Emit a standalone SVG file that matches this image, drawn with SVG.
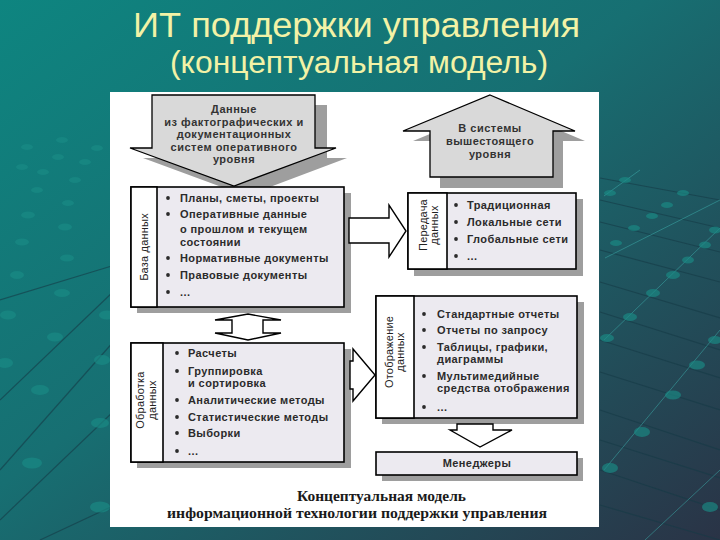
<svg xmlns="http://www.w3.org/2000/svg" width="720" height="540" viewBox="0 0 720 540">
<defs>
<linearGradient id="bg" x1="0" y1="0" x2="1" y2="1">
<stop offset="0" stop-color="#0e8580"/>
<stop offset="0.45" stop-color="#176f72"/>
<stop offset="1" stop-color="#2a3346"/>
</linearGradient>
<style>
.title{font-family:"Liberation Sans",Arial,sans-serif;fill:#f2f2a6}
.t{font-family:"Liberation Sans",Arial,sans-serif;font-size:11px;font-weight:bold;fill:#2b2b2b;letter-spacing:0.4px}
.lb{font-family:"Liberation Sans",Arial,sans-serif;font-size:11px;fill:#222;letter-spacing:0.2px}
.at{font-family:"Liberation Sans",Arial,sans-serif;font-size:11px;font-weight:bold;fill:#333;text-anchor:middle;letter-spacing:0.5px}
.cap{font-family:"Liberation Serif","Times New Roman",serif;font-size:14px;font-weight:bold;fill:#1a1a1a}
.box{fill:#eceaf0;stroke:#000;stroke-width:1.6}
.col{fill:#fff;stroke:#000;stroke-width:1.6}
.sh{fill:#9e9e9e}
.arr{fill:#d9d9d9;stroke:#000;stroke-width:1.3}
.warr{fill:#fff;stroke:#000;stroke-width:1.4}
.bul{fill:#2b2b2b}
.dk{stroke:#163a46;stroke-width:1.2;fill:none;opacity:0.6}
.br{stroke:#3db0ad;stroke-width:1;fill:none;opacity:0.5}
.dot{fill:#1a8c86;opacity:0.65}
</style>
</defs>
<rect width="720" height="540" fill="url(#bg)"/>
<g id="decor">
<path class="dk" d="M600 178 L720 200 M600 200 L720 228 M600 222 L720 252 M600 250 L720 282 M600 282 L720 318 M600 312 L720 350 M600 340 L720 378 M600 372 L720 410 M600 410 L720 450 M600 440 L720 478 M600 470 L720 510 M600 505 L720 540"/>
<path class="br" d="M604 196 L640 170 M605 258 L720 200 M604 340 L720 228 M604 470 L720 330 M645 540 L720 470"/>
<path class="dk" d="M0 400 L115 290 M0 470 L115 340 M0 520 L115 410 M40 540 L115 505 M0 300 L115 265"/>
<g class="dot">
<ellipse cx="625" cy="180" rx="6" ry="3"/><ellipse cx="610" cy="193" rx="6" ry="3"/><ellipse cx="683" cy="193" rx="6" ry="3"/><ellipse cx="667" cy="205" rx="6" ry="3"/><ellipse cx="652" cy="216" rx="6" ry="3"/><ellipse cx="634" cy="228" rx="6" ry="3"/><ellipse cx="616" cy="243" rx="6" ry="3"/>
<ellipse cx="715" cy="230" rx="6" ry="3.5"/><ellipse cx="705" cy="245" rx="6" ry="3.5"/><ellipse cx="688" cy="260" rx="6" ry="3.5"/><ellipse cx="673" cy="275" rx="7" ry="4"/><ellipse cx="653" cy="293" rx="7" ry="4"/><ellipse cx="630" cy="317" rx="7" ry="4"/><ellipse cx="607" cy="338" rx="7" ry="4"/>
<ellipse cx="715" cy="340" rx="7" ry="4"/><ellipse cx="697" cy="365" rx="8" ry="4.5"/><ellipse cx="673" cy="395" rx="8" ry="4.5"/><ellipse cx="642" cy="432" rx="8" ry="5"/><ellipse cx="610" cy="468" rx="8" ry="5"/><ellipse cx="710" cy="507" rx="8" ry="5"/>
<ellipse cx="27" cy="147" rx="6" ry="3"/><ellipse cx="62" cy="140" rx="6" ry="3"/><ellipse cx="97" cy="148" rx="6" ry="3"/><ellipse cx="22" cy="167" rx="6" ry="3"/><ellipse cx="58" cy="157" rx="6" ry="3"/><ellipse cx="85" cy="162" rx="6" ry="3"/><ellipse cx="43" cy="172" rx="6" ry="3"/><ellipse cx="75" cy="180" rx="6" ry="3"/><ellipse cx="37" cy="190" rx="6" ry="3"/><ellipse cx="68" cy="203" rx="6" ry="3"/><ellipse cx="28" cy="215" rx="7" ry="3.5"/><ellipse cx="65" cy="227" rx="7" ry="3.5"/><ellipse cx="22" cy="242" rx="7" ry="3.5"/><ellipse cx="67" cy="258" rx="7" ry="3.5"/><ellipse cx="17" cy="275" rx="7" ry="4"/><ellipse cx="62" cy="293" rx="8" ry="4"/><ellipse cx="8" cy="315" rx="8" ry="4.5"/><ellipse cx="107" cy="315" rx="8" ry="4.5"/><ellipse cx="55" cy="337" rx="8" ry="4.5"/><ellipse cx="5" cy="363" rx="8" ry="5"/><ellipse cx="102" cy="360" rx="8" ry="5"/><ellipse cx="40" cy="390" rx="9" ry="5"/><ellipse cx="100" cy="423" rx="9" ry="5"/><ellipse cx="32" cy="463" rx="10" ry="5.5"/><ellipse cx="100" cy="507" rx="10" ry="5.5"/>
</g>
</g>
<text class="title" x="133" y="37" font-size="35" textLength="447" lengthAdjust="spacingAndGlyphs">ИТ поддержки управления</text>
<text class="title" x="170" y="73" font-size="31" textLength="378" lengthAdjust="spacingAndGlyphs">(концептуальная модель)</text>
<rect x="110" y="92" width="489" height="435" fill="#ffffff"/>

<g id="source-arrow">
<polygon class="sh" points="164,105 327,105 327,158 347,158 246,196 143,158 164,158"/>
<polygon class="arr" points="152,95 315,95 315,148 336,148 234,186 130,148 152,148"/>
<text class="at" x="234" y="113">Данные</text>
<text class="at" x="234" y="126">из фактографических и</text>
<text class="at" x="234" y="138">документационных</text>
<text class="at" x="234" y="151">систем оперативного</text>
<text class="at" x="234" y="163">уровня</text>
</g>

<g id="target-arrow">
<polygon class="sh" points="500,105 585,141 563,141 563,188 440,188 440,141 413,141"/>
<polygon class="arr" points="490,95 575,131 553,131 553,177 430,177 430,131 403,131"/>
<text class="at" x="490" y="132">В системы</text>
<text class="at" x="490" y="145">вышестоящего</text>
<text class="at" x="490" y="158">уровня</text>
</g>

<g id="database">
<rect class="sh" x="137" y="193" width="214" height="120"/>
<rect class="box" x="131" y="187" width="213" height="120"/>
<rect class="col" x="131" y="187" width="26" height="120"/>
<text class="lb" transform="translate(148,247) rotate(-90)" text-anchor="middle">База данных</text>
<circle class="bul" cx="168" cy="198" r="1.9"/><text class="t" x="180" y="202">Планы, сметы, проекты</text>
<circle class="bul" cx="168" cy="214" r="1.9"/><text class="t" x="180" y="218">Оперативные данные</text>
<text class="t" x="180" y="233">о прошлом и текущем</text>
<text class="t" x="180" y="246">состоянии</text>
<circle class="bul" cx="168" cy="258" r="1.9"/><text class="t" x="180" y="262">Нормативные документы</text>
<circle class="bul" cx="168" cy="275" r="1.9"/><text class="t" x="180" y="279">Правовые документы</text>
<circle class="bul" cx="168" cy="292" r="1.9"/><text class="t" x="180" y="296">...</text>
</g>

<g id="transfer">
<rect class="sh" x="414" y="199" width="169" height="77"/>
<rect class="box" x="408" y="193" width="168" height="76"/>
<rect class="col" x="408" y="193" width="39" height="76"/>
<text class="lb" transform="translate(427,225) rotate(-90)" text-anchor="middle">Передача</text>
<text class="lb" transform="translate(438,225) rotate(-90)" text-anchor="middle">данных</text>
<circle class="bul" cx="456" cy="205" r="1.9"/><text class="t" x="467" y="209">Традиционная</text>
<circle class="bul" cx="456" cy="222" r="1.9"/><text class="t" x="467" y="226">Локальные сети</text>
<circle class="bul" cx="456" cy="239" r="1.9"/><text class="t" x="467" y="243">Глобальные сети</text>
<circle class="bul" cx="456" cy="256" r="1.9"/><text class="t" x="467" y="260">...</text>
</g>

<g id="processing">
<rect class="sh" x="137" y="349" width="214" height="119"/>
<rect class="box" x="131" y="343" width="213" height="119"/>
<rect class="col" x="131" y="343" width="32" height="119"/>
<text class="lb" transform="translate(144,400) rotate(-90)" text-anchor="middle">Обработка</text>
<text class="lb" transform="translate(156,400) rotate(-90)" text-anchor="middle">данных</text>
<circle class="bul" cx="177" cy="353" r="1.9"/><text class="t" x="188" y="357">Расчеты</text>
<circle class="bul" cx="177" cy="371" r="1.9"/><text class="t" x="188" y="375">Группировка</text>
<text class="t" x="188" y="387">и сортировка</text>
<circle class="bul" cx="177" cy="400" r="1.9"/><text class="t" x="188" y="404">Аналитические методы</text>
<circle class="bul" cx="177" cy="417" r="1.9"/><text class="t" x="188" y="421">Статистические методы</text>
<circle class="bul" cx="177" cy="433" r="1.9"/><text class="t" x="188" y="437">Выборки</text>
<circle class="bul" cx="177" cy="451" r="1.9"/><text class="t" x="188" y="455">...</text>
</g>

<g id="display">
<rect class="sh" x="382" y="302" width="202" height="122"/>
<rect class="box" x="376" y="296" width="201" height="122"/>
<rect class="col" x="376" y="296" width="38" height="122"/>
<text class="lb" transform="translate(393,352) rotate(-90)" text-anchor="middle">Отображение</text>
<text class="lb" transform="translate(404,352) rotate(-90)" text-anchor="middle">данных</text>
<circle class="bul" cx="424" cy="314" r="1.9"/><text class="t" x="437" y="318">Стандартные отчеты</text>
<circle class="bul" cx="424" cy="330" r="1.9"/><text class="t" x="437" y="334">Отчеты по запросу</text>
<circle class="bul" cx="424" cy="347" r="1.9"/><text class="t" x="437" y="351">Таблицы, графики,</text>
<text class="t" x="437" y="363">диаграммы</text>
<circle class="bul" cx="424" cy="376" r="1.9"/><text class="t" x="437" y="380">Мультимедийные</text>
<text class="t" x="437" y="392">средства отображения</text>
<circle class="bul" cx="424" cy="407" r="1.9"/><text class="t" x="437" y="411">...</text>
</g>

<g id="managers">
<rect class="sh" x="382" y="458" width="201" height="23"/>
<rect class="box" x="376" y="452" width="201" height="23"/>
<text class="t" x="477" y="467" text-anchor="middle">Менеджеры</text>
</g>

<g id="connectors">
<polygon class="warr" points="349,218 389,218 389,205 406,231 389,257 389,243 349,243"/>
<polygon class="warr" points="248,314 281,320 263,320 263,333 281,333 248,340 215,333 232,333 232,320 215,320"/>
<polygon class="warr" points="350,361 353,361 353,349 375,375 353,401 353,389 350,389"/>
<polygon class="warr" points="457,424 493,424 493,430 512,430 480,447 450,430 457,430"/>
</g>

<g id="caption">
<text class="cap" x="297" y="501" textLength="169" lengthAdjust="spacingAndGlyphs">Концептуальная модель</text>
<text class="cap" x="167" y="518" textLength="380" lengthAdjust="spacingAndGlyphs">информационной технологии поддержки управления</text>
</g>
</svg>
